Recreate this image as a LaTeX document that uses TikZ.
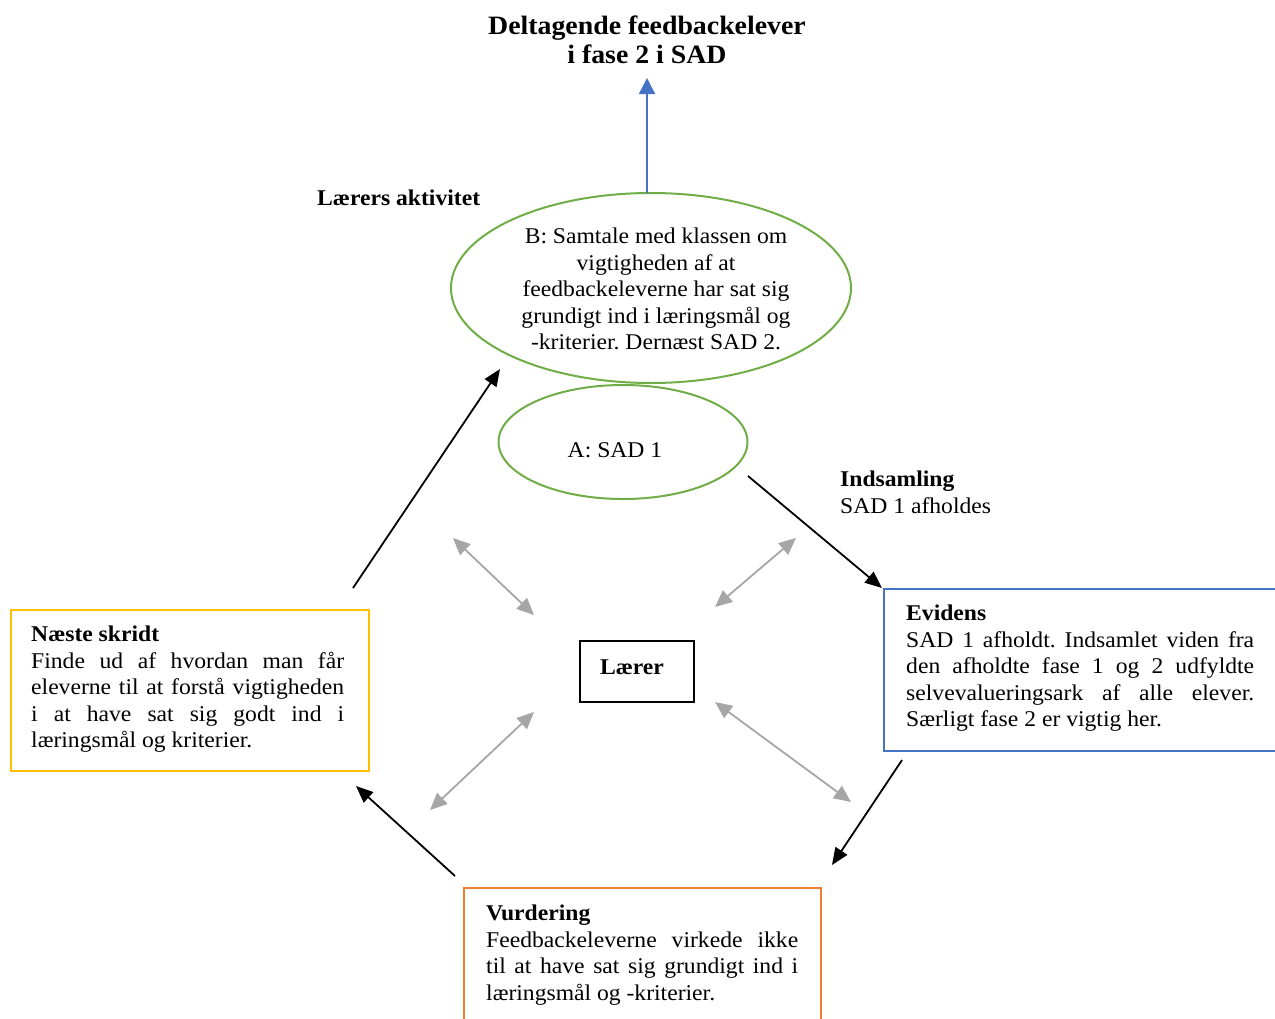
\documentclass[tikz,border=0pt]{standalone}
\usepackage{fontspec}
\setmainfont[FakeStretch=1.05]{Liberation Serif}
\usetikzlibrary{arrows.meta,shapes.geometric}
\definecolor{ellgreen}{HTML}{70AD47}
\definecolor{evblue}{HTML}{4472C4}
\definecolor{vdorange}{HTML}{ED7D31}
\definecolor{nsgold}{HTML}{FFC000}
\definecolor{tiegray}{HTML}{A6A6A6}
\frenchspacing
\begin{document}
\begin{tikzpicture}[x=1pt,y=-1pt,
  body/.style={font=\fontsize{22.5}{26.5}\selectfont, inner sep=0pt},
  bodybold/.style={font=\fontsize{22.5}{26.5}\selectfont\bfseries, inner sep=0pt},
  headline/.style={font=\fontsize{26.5}{29}\selectfont\bfseries, inner sep=0pt, align=center},
  phase/.style={draw=ellgreen, line width=2pt, ellipse, inner sep=0pt},
  framebox/.style={line width=2pt, rectangle, inner sep=0pt, anchor=north west},
  boxtext/.style={body, anchor=north west, align=justify},
  flow/.style={line width=1.8pt, -{Triangle[length=17pt,width=14pt]}},
  tie/.style={draw=tiegray, line width=1.8pt, {Triangle[length=17pt,width=15pt]}-{Triangle[length=17pt,width=15pt]}},
  goal/.style={draw=evblue, line width=1.5pt, -{Triangle[length=16pt,width=16pt]}}]
\useasboundingbox (0,0) rectangle (1275,1018);
\clip (0,0) rectangle (1275,1018);

% heading and goal arrow
\node[headline, anchor=north] (title) at (647,16) {Deltagende feedbackelever\\i fase 2 i SAD};

% teacher activities
\node[bodybold, anchor=base west] (act) at (317,205) {Lærers aktivitet};
\node[phase, minimum width=400, minimum height=190] (B) at (651,288) {};
\node[body, align=center] (Btxt) at (656,289) {B: Samtale med klassen om\\vigtigheden af at\\feedbackeleverne har sat sig\\grundigt ind i læringsmål og\\-kriterier. Dernæst SAD 2.};
\node[phase, minimum width=249, minimum height=114] (A) at (623,442) {};
\node[body] (Atxt) at (615,450) {A: SAD 1};

% collection label
\node[body, anchor=north west, align=left] (coll) at (840,471) {\textbf{Indsamling}\\SAD 1 afholdes};

% evidence box
\node[framebox, draw=evblue, minimum width=400, minimum height=162] (evid) at (883,588) {};
\node[boxtext, text width=348] (evidtxt) at (906,605) {\textbf{Evidens}\\SAD 1 afholdt. Indsamlet viden fra\linebreak den afholdte fase 1 og 2 udfyldte\linebreak selvevalueringsark af alle elever.\linebreak Særligt fase 2 er vigtig her.};

% assessment box
\node[framebox, draw=vdorange, minimum width=357, minimum height=200] (vurd) at (463,887) {};
\node[boxtext, text width=312] (vurdtxt) at (486,905) {\textbf{Vurdering}\\Feedbackeleverne virkede ikke\linebreak til at have sat sig grundigt ind i\linebreak læringsmål og -kriterier.};

% next step box
\node[framebox, draw=nsgold, minimum width=358, minimum height=161] (next) at (10,609) {};
\node[boxtext, text width=313] (nexttxt) at (31,626) {\textbf{Næste skridt}\\Finde ud af hvordan man får\linebreak eleverne til at forstå vigtigheden\linebreak i at have sat sig godt ind i\linebreak læringsmål og kriterier.};

% teacher in the centre
\node[draw=black, line width=2.6pt, rectangle, minimum width=114, minimum height=61, inner sep=0pt] (laerer) at (637,671.5) {};
\node[bodybold] (laerertxt) at (632,667) {Lærer};

% connector end points
\coordinate (upS) at (647,193);
\coordinate (upE) at (647,78);
\coordinate (aS) at (748,476);
\coordinate (aE) at (882,588);
\coordinate (eS) at (902,760);
\coordinate (eE) at (832,865);
\coordinate (vS) at (455,876);
\coordinate (vE) at (356,786);
\coordinate (nS) at (353,588);
\coordinate (nE) at (500,369);
\coordinate (t1a) at (453,538);
\coordinate (t1b) at (534,615);
\coordinate (t2a) at (796,538);
\coordinate (t2b) at (715,607);
\coordinate (t3a) at (534,712);
\coordinate (t3b) at (430,810);
\coordinate (t4a) at (715,702);
\coordinate (t4b) at (851,802);

% cycle
\draw[goal] (upS) -- (upE);
\draw[flow] (aS) -- (aE);
\draw[flow] (eS) -- (eE);
\draw[flow] (vS) -- (vE);
\draw[flow] (nS) -- (nE);

% links to the teacher
\draw[tie] (t1a) -- (t1b);
\draw[tie] (t2a) -- (t2b);
\draw[tie] (t3a) -- (t3b);
\draw[tie] (t4a) -- (t4b);
\end{tikzpicture}
\end{document}
